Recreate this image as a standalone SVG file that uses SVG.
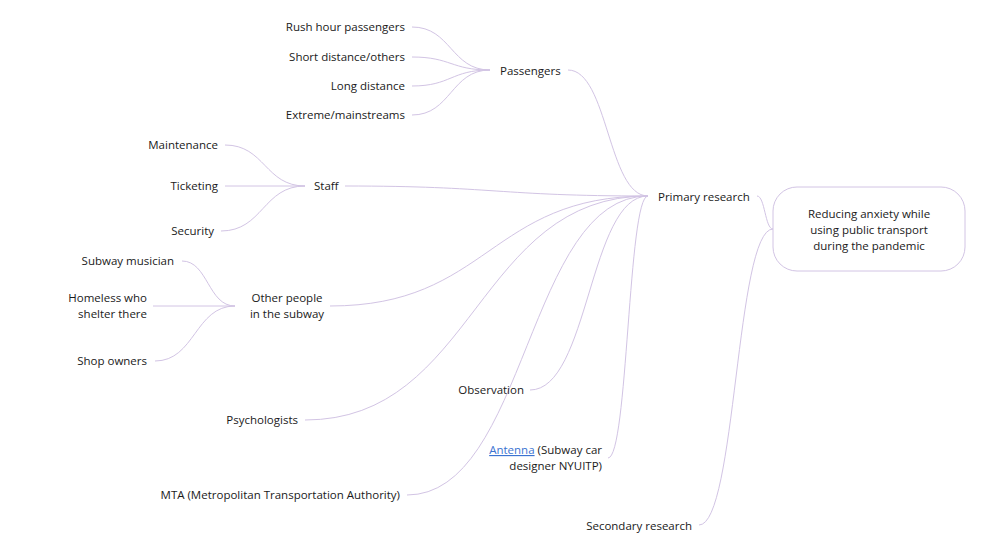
<svg xmlns="http://www.w3.org/2000/svg" width="1000" height="544" viewBox="0 0 1000 544">
<style>
text{font-family:"Open Sans","Noto Sans","Liberation Sans",sans-serif;font-size:11.5px;fill:#1a1a1a}
.r{text-anchor:end}
.m{text-anchor:middle}
.c{fill:none;stroke:#d2c4e4;stroke-width:1}
.link{fill:#3b73d1;text-decoration:underline}
</style>
<rect width="1000" height="544" fill="#ffffff"/>
<g id="connectors">
<path class="c" d="M412,27 C451,27 451,70 490,70"/>
<path class="c" d="M412,57 C451,57 451,70 490,70"/>
<path class="c" d="M412,86 C451,86 451,70 490,70"/>
<path class="c" d="M412,115 C451,115 451,70 490,70"/>
<path class="c" d="M225,145 C265,145 265,186 305,186"/>
<path class="c" d="M225,186 L305,186"/>
<path class="c" d="M221,231 C263,231 263,186 305,186"/>
<path class="c" d="M182,261 C208,261 208,306 235,306"/>
<path class="c" d="M153,306 L235,306"/>
<path class="c" d="M155,361 C195,361 195,306 235,306"/>
<path class="c" d="M568,70 C608,70 608,196 648,196"/>
<path class="c" d="M345,186 C496,186 496,196 648,196"/>
<path class="c" d="M330,306 C489,306 489,196 648,196"/>
<path class="c" d="M305,420 C476,420 476,196 648,196"/>
<path class="c" d="M530,390 C589,390 589,196 648,196"/>
<path class="c" d="M608,458 C628,458 628,196 648,196"/>
<path class="c" d="M407,495 C527,495 527,196 648,196"/>
<path class="c" d="M757,196 C765,196 765,229 773,229"/>
<path class="c" d="M699,525 C736,525 736,229 773,229"/>
</g>
<g id="root">
<rect x="773" y="187" width="192" height="84" rx="24" fill="#ffffff" stroke="#d2c4e4" stroke-width="1"/>
<text class="m" x="869" y="218">Reducing anxiety while</text>
<text class="m" x="869" y="234">using public transport</text>
<text class="m" x="869" y="250">during the pandemic</text>
</g>
<g id="primary"><text x="658" y="201">Primary research</text></g>
<g id="secondary"><text class="r" x="692" y="530">Secondary research</text></g>
<g id="passengers"><text x="500" y="75">Passengers</text></g>
<g id="rush"><text class="r" x="405" y="31">Rush hour passengers</text></g>
<g id="short"><text class="r" x="405" y="61">Short distance/others</text></g>
<g id="long"><text class="r" x="405" y="90">Long distance</text></g>
<g id="extreme"><text class="r" x="405" y="119">Extreme/mainstreams</text></g>
<g id="staff"><text x="314" y="190">Staff</text></g>
<g id="maintenance"><text class="r" x="218" y="149">Maintenance</text></g>
<g id="ticketing"><text class="r" x="218" y="190">Ticketing</text></g>
<g id="security"><text class="r" x="214" y="235">Security</text></g>
<g id="other"><text class="m" x="287" y="302">Other people</text><text class="m" x="287" y="318">in the subway</text></g>
<g id="musician"><text class="r" x="174" y="265">Subway musician</text></g>
<g id="homeless"><text class="r" x="147" y="302">Homeless who</text><text class="r" x="147" y="318">shelter there</text></g>
<g id="shop"><text class="r" x="147" y="365">Shop owners</text></g>
<g id="psychologists"><text class="r" x="298" y="424">Psychologists</text></g>
<g id="observation"><text class="r" x="524" y="394">Observation</text></g>
<g id="antenna"><text class="r" x="602" y="454"><tspan class="link">Antenna</tspan> (Subway car</text><text class="r" x="602" y="470">designer NYUITP)</text></g>
<g id="mta"><text class="r" x="400" y="499">MTA (Metropolitan Transportation Authority)</text></g>
</svg>
